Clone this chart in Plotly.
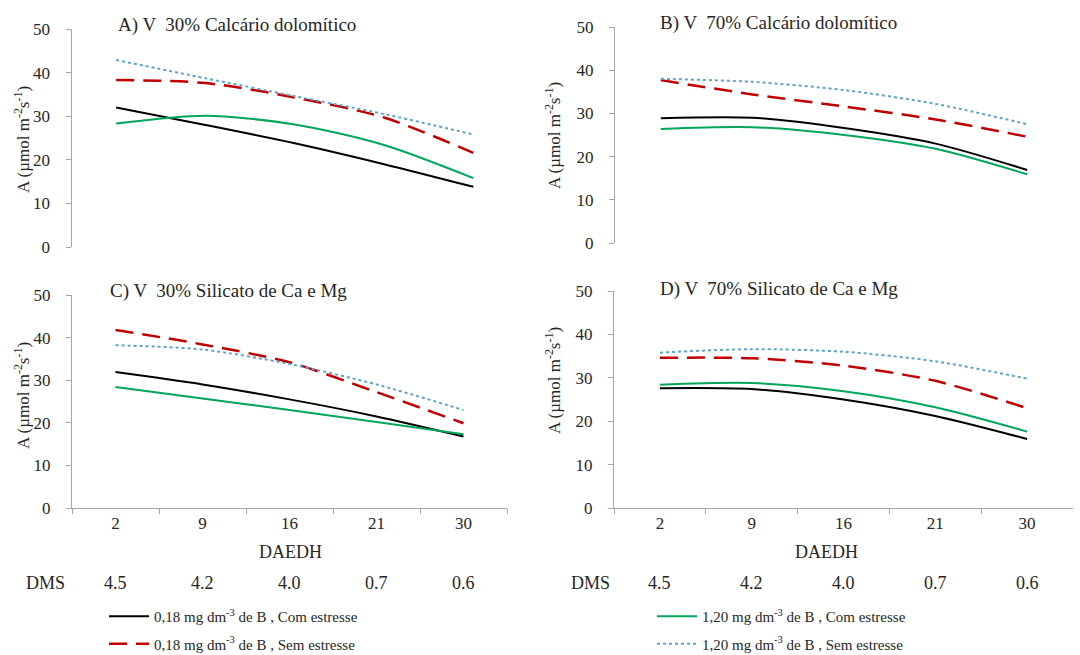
import plotly.graph_objects as go

# ---------------- data ----------------
daedh = ["2", "9", "16", "21", "30"]
dms = ["4.5", "4.2", "4.0", "0.7", "0.6"]

series_names = [
    "0,18 mg dm<sup>-3</sup> de B , Com estresse",
    "0,18 mg dm<sup>-3</sup> de B , Sem estresse",
    "1,20 mg dm<sup>-3</sup> de B , Com estresse",
    "1,20 mg dm<sup>-3</sup> de B , Sem estresse",
]

# Panel A) V 30% Calcario dolomitico
a_b018_com = [32.0, 28.0, 23.8, 19.0, 13.8]
a_b018_sem = [38.3, 37.6, 34.3, 29.7, 21.6]
a_b120_com = [28.3, 30.1, 28.1, 23.4, 15.8]
a_b120_sem = [42.9, 38.7, 34.6, 30.5, 25.8]

# Panel B) V 70% Calcario dolomitico
b_b018_com = [28.9, 29.0, 26.6, 23.0, 16.9]
b_b018_sem = [37.7, 34.4, 31.6, 28.6, 24.6]
b_b120_com = [26.4, 26.8, 25.0, 21.8, 15.9]
b_b120_sem = [38.0, 37.3, 35.4, 32.2, 27.5]

# Panel C) V 30% Silicato de Ca e Mg
c_b018_com = [31.9, 29.0, 25.5, 21.5, 16.8]
c_b018_sem = [41.8, 38.4, 34.2, 27.2, 19.9]
c_b120_com = [28.4, 25.7, 23.0, 20.2, 17.3]
c_b120_sem = [38.2, 37.2, 33.8, 29.0, 23.0]

# Panel D) V 70% Silicato de Ca e Mg
d_b018_com = [27.6, 27.4, 25.0, 21.2, 15.9]
d_b018_sem = [34.6, 34.5, 32.8, 29.3, 23.0]
d_b120_com = [28.4, 28.8, 26.9, 23.2, 17.6]
d_b120_sem = [35.8, 36.6, 36.0, 33.8, 29.8]

panel_titles = [
    "A) V  30% Calcário dolomítico",
    "B) V  70% Calcário dolomítico",
    "C) V  30% Silicato de Ca e Mg",
    "D) V  70% Silicato de Ca e Mg",
]
y_title = "A (µmol m<sup>-2</sup>s<sup>-1</sup>)"
x_title = "DAEDH"

# ---------------- styling ----------------
W, H = 1080, 655
FONT = "Liberation Serif"
AXIS_GRAY = "#A6A6A6"
TXT = "#262626"

styles = [
    dict(color="#000000", width=2, dash="solid"),
    dict(color="#C00000", width=2.5, dash="18px,9px"),
    dict(color="#00A65A", width=2, dash="solid"),
    dict(color="#5FA3C8", width=2, dash="dot"),
]
legend_of = ["legend", "legend", "legend2", "legend2"]

panels = [
    [a_b018_com, a_b018_sem, a_b120_com, a_b120_sem],
    [b_b018_com, b_b018_sem, b_b120_com, b_b120_sem],
    [c_b018_com, c_b018_sem, c_b120_com, c_b120_sem],
    [d_b018_com, d_b018_sem, d_b120_com, d_b120_sem],
]

# pixel boxes (x0, x1, ytop, ybottom)
boxes = [
    (71.5, 518, 29, 247),
    (615, 1073, 27, 243),
    (72, 507, 295, 508),
    (614, 1073, 291, 508),
]


def px(x):
    return x / W


def py(y):
    return 1 - y / H


fig = go.Figure()

for p, data in enumerate(panels):
    sfx = "" if p == 0 else str(p + 1)
    for s, vals in enumerate(data):
        fig.add_trace(go.Scatter(
            x=daedh, y=vals, mode="lines",
            line=dict(shape="spline", smoothing=0.8, **styles[s]),
            name=series_names[s],
            legendgroup=f"g{s}",
            legend=legend_of[s],
            showlegend=(p == 0),
            xaxis="x" + sfx, yaxis="y" + sfx,
            hoverinfo="skip",
        ))

layout = dict(
    width=W, height=H,
    margin=dict(l=0, r=0, t=0, b=0, autoexpand=False),
    paper_bgcolor="white", plot_bgcolor="white",
    font=dict(family=FONT, size=16, color=TXT),
    showlegend=True,
)

for p, (x0, x1, yt, yb) in enumerate(boxes):
    sfx = "" if p == 0 else str(p + 1)
    bottom = p >= 2
    layout["xaxis" + sfx] = dict(
        domain=[px(x0), px(x1)], anchor="y" + sfx,
        type="category", range=[-0.5, 4.5],
        showgrid=False, zeroline=False,
        showline=bottom, linecolor=AXIS_GRAY, linewidth=1,
        ticks="outside" if bottom else "", tickson="boundaries",
        ticklen=5, tickcolor=AXIS_GRAY,
        showticklabels=bottom,
        tickfont=dict(family=FONT, size=17, color=TXT),
        fixedrange=True,
    )
    layout["yaxis" + sfx] = dict(
        domain=[py(yb), py(yt)], anchor="x" + sfx,
        range=[0, 50], tickvals=[0, 10, 20, 30, 40, 50],
        showgrid=False, zeroline=False,
        showline=True, linecolor=AXIS_GRAY, linewidth=1,
        ticks="outside", ticklen=5, tickcolor=AXIS_GRAY,
        ticklabelstandoff=12,
        tickfont=dict(family=FONT, size=17, color=TXT),
        fixedrange=True,
    )

layout["legend"] = dict(
    x=px(104), y=py(600), xanchor="left", yanchor="top",
    font=dict(family=FONT, size=15, color=TXT),
    bgcolor="rgba(0,0,0,0)", itemwidth=40, tracegroupgap=5,
)
layout["legend2"] = dict(
    x=px(652), y=py(600), xanchor="left", yanchor="top",
    font=dict(family=FONT, size=15, color=TXT),
    bgcolor="rgba(0,0,0,0)", itemwidth=40, tracegroupgap=5,
)

fig.update_layout(**layout)

ann = []
title_pos = [(116, 25), (658, 23), (108, 291), (658, 289)]
for t, (x, y) in zip(panel_titles, title_pos):
    ann.append(dict(text=t, x=px(x), y=py(y), xref="paper", yref="paper",
                    xanchor="left", yanchor="middle", showarrow=False,
                    font=dict(family=FONT, size=19, color=TXT)))

ytitle_pos = [(22, 140), (553, 136), (22, 396), (553, 381)]
for (x, y) in ytitle_pos:
    ann.append(dict(text=y_title, x=px(x), y=py(y), xref="paper", yref="paper",
                    xanchor="center", yanchor="middle", textangle=-90,
                    showarrow=False, font=dict(family=FONT, size=17, color=TXT)))

for xc in (290, 826):
    ann.append(dict(text=x_title, x=px(xc), y=py(552), xref="paper", yref="paper",
                    xanchor="center", yanchor="middle", showarrow=False,
                    font=dict(family=FONT, size=18, color=TXT)))

for xd, xr in ((45, "x3"), (590, "x4")):
    ann.append(dict(text="DMS", x=px(xd), y=py(583), xref="paper", yref="paper",
                    xanchor="center", yanchor="middle", showarrow=False,
                    font=dict(family=FONT, size=18, color=TXT)))
    for i, v in enumerate(dms):
        ann.append(dict(text=v, x=i, y=py(583), xref=xr, yref="paper",
                        xanchor="center", yanchor="middle", showarrow=False,
                        font=dict(family=FONT, size=18, color=TXT)))

fig.update_layout(annotations=ann)

# remove the browser's default 8px page margin so the figure fills the window
fig.write_html("out.html", config={"displayModeBar": False},
               post_script="document.body.style.margin='0';")
